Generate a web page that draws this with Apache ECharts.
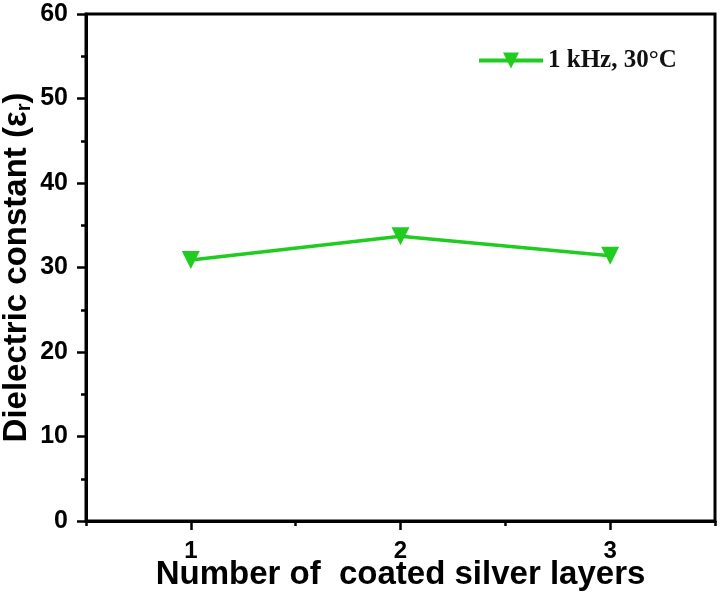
<!DOCTYPE html>
<html>
<head>
<meta charset="utf-8">
<script src="https://cdn.jsdelivr.net/npm/echarts@6/dist/echarts.min.js"></script>
<style>
  html, body { margin: 0; padding: 0; background: #fff; }
  #main { width: 720px; height: 594px; }
</style>
</head>
<body>
<div id="main"></div>
<script>
var chart = echarts.init(document.getElementById('main'));

// data
var layers = ['1', '2', '3'];
var epsilon = [30.9, 33.7, 31.4];
var seriesName = '1 kHz, 30°C';
var yTicks = [0, 10, 20, 30, 40, 50, 60];

var green = '#1fcc1f';
var font = 'Liberation Sans';

option = {
  backgroundColor: '#fff',
  animation: false,
  grid: {
    left: 86,
    top: 14,
    right: 5,
    bottom: 73,
    containLabel: false,
    outerBoundsMode: 'none',
    show: true,
    borderColor: '#000',
    borderWidth: 3
  },
  legend: {
    left: 472,
    top: 43,
    itemWidth: 64,
    itemHeight: 20,
    lineStyle: { width: 4 },
    textStyle: {
      fontFamily: 'Liberation Serif',
      fontWeight: 'bold',
      fontSize: 25,
      color: '#111'
    },
    data: [seriesName]
  },
  xAxis: [
    {
      type: 'category',
      data: layers,
      boundaryGap: true,
      name: 'Number of  coated silver layers',
      nameLocation: 'middle',
      nameGap: 37,
      nameMoveOverlap: false,
      nameTextStyle: {
        fontFamily: font,
        fontWeight: 'bold',
        fontSize: 33,
        color: '#000'
      },
      axisLine: { show: true, lineStyle: { color: '#000', width: 3 } },
      axisTick: { show: true, alignWithLabel: true, length: 9, lineStyle: { color: '#000', width: 2.5 } },
      axisLabel: {
        margin: 18,
        fontFamily: font,
        fontWeight: 'bold',
        fontSize: 24,
        color: '#000'
      },
      splitLine: { show: false }
    },
    {
      // minor ticks between the layer counts
      type: 'category',
      data: layers,
      position: 'bottom',
      boundaryGap: true,
      axisLine: { show: false },
      axisTick: { show: true, alignWithLabel: false, length: 5, lineStyle: { color: '#000', width: 2.5 } },
      axisLabel: { show: false },
      splitLine: { show: false }
    }
  ],
  yAxis: {
    type: 'value',
    min: yTicks[0],
    max: yTicks[yTicks.length - 1],
    interval: 10,
    name: 'Dielectric constant (ε{sub|r})',
    nameLocation: 'middle',
    nameGap: 52,
    nameMoveOverlap: false,
    nameTextStyle: {
      fontFamily: font,
      fontWeight: 'bold',
      fontSize: 33,
      color: '#000',
      rich: {
        sub: {
          fontFamily: font,
          fontWeight: 'bold',
          fontSize: 20,
          color: '#000',
          padding: [14, 0, 0, 0]
        }
      }
    },
    axisLine: { show: true, lineStyle: { color: '#000', width: 3 } },
    axisTick: { show: true, length: 9, lineStyle: { color: '#000', width: 2.5 } },
    minorTick: { show: true, splitNumber: 2, length: 5, lineStyle: { color: '#000', width: 2.5 } },
    axisLabel: {
      margin: 18,
      fontFamily: font,
      fontWeight: 'bold',
      fontSize: 25,
      color: '#000'
    },
    splitLine: { show: false }
  },
  series: [
    {
      name: seriesName,
      type: 'line',
      data: epsilon,
      symbol: 'triangle',
      symbolRotate: 180,
      symbolSize: 18,
      itemStyle: { color: green },
      lineStyle: { color: green, width: 3.5 }
    }
  ]
};

option && chart.setOption(option);
</script>
</body>
</html>
